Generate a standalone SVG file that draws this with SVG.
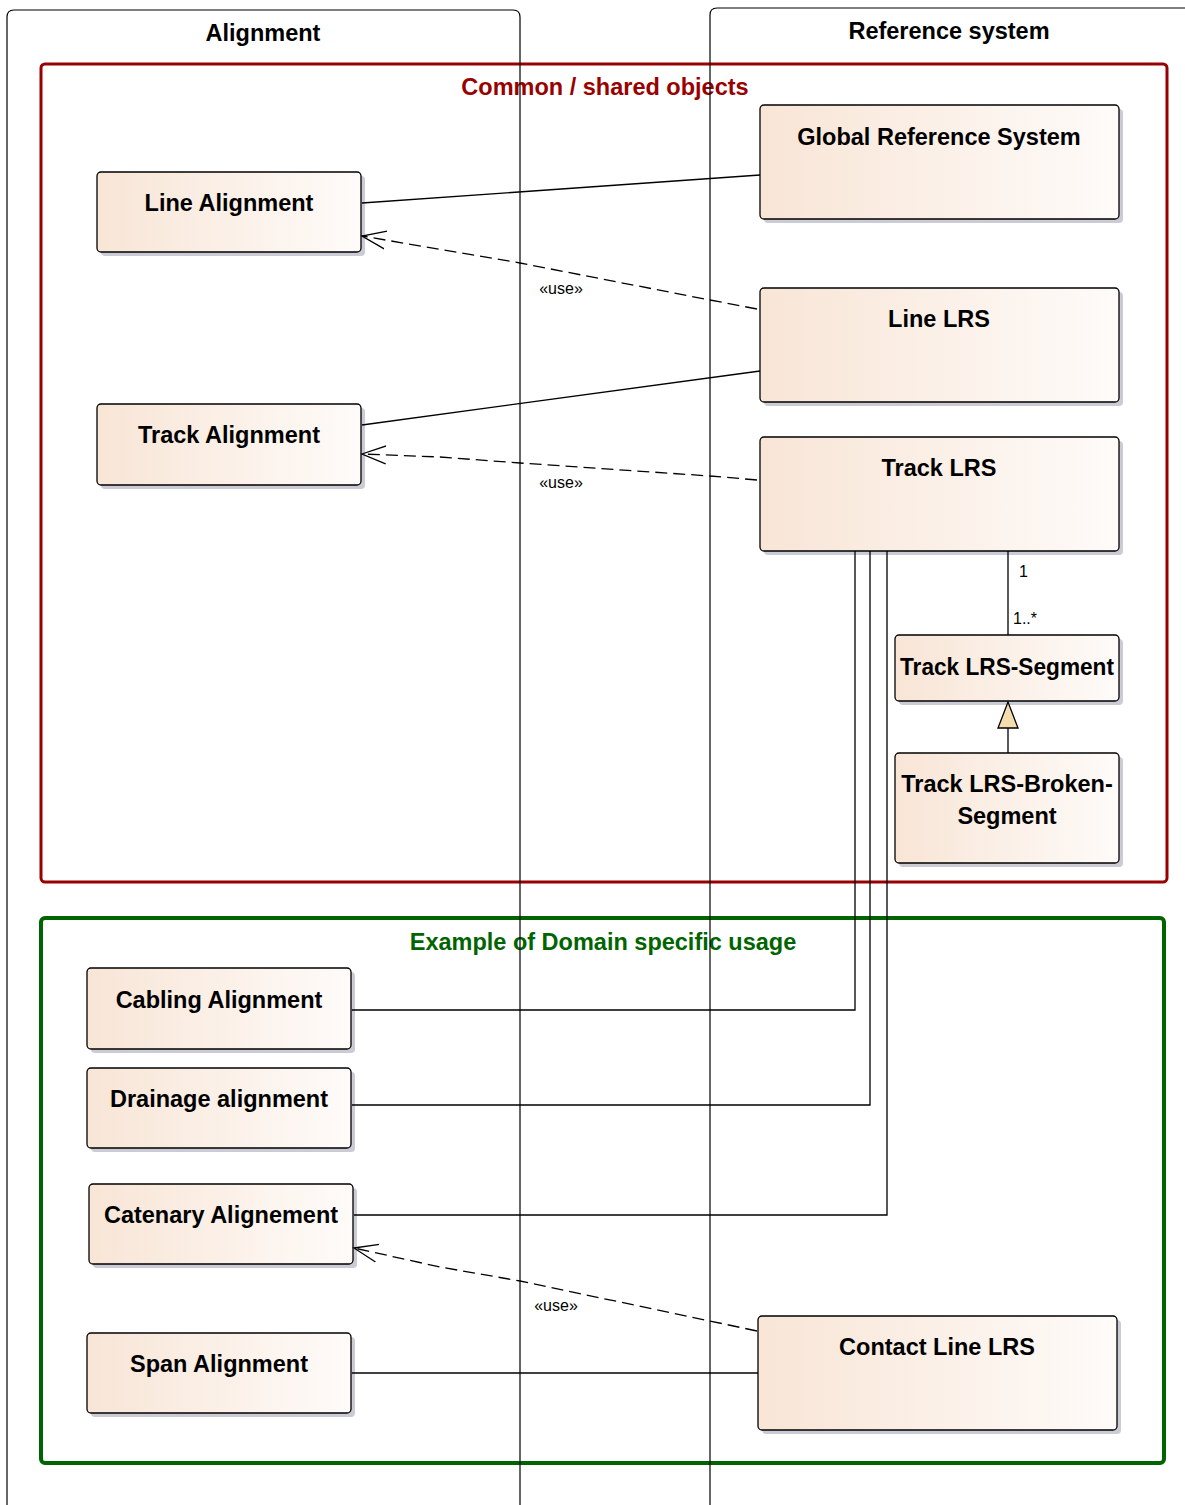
<svg xmlns="http://www.w3.org/2000/svg" width="1185" height="1505" viewBox="0 0 1185 1505">
<defs>
<linearGradient id="g" x1="0" y1="0" x2="1" y2="0">
<stop offset="0" stop-color="#f8e5d6"/>
<stop offset="1" stop-color="#fefbf9"/>
</linearGradient>
<marker id="open" markerWidth="30" markerHeight="24" refX="24" refY="11" orient="auto" markerUnits="userSpaceOnUse">
<path d="M0,2 L24,11 L0,20" fill="none" stroke="#000" stroke-width="1.3"/>
</marker>
<style>
.shadow{fill:#cbcbd6}
.box{fill:url(#g);stroke:#000;stroke-width:1.3}
.t{font-family:"Liberation Sans",Arial,sans-serif;font-weight:bold;font-size:23.5px;text-anchor:middle;fill:#000}
.lane{fill:none;stroke:#000;stroke-width:1.2}
.c{fill:none;stroke:#000;stroke-width:1.3}
.d{fill:none;stroke:#000;stroke-width:1.3;stroke-dasharray:12,6}
.s{font-family:"Liberation Sans",Arial,sans-serif;font-size:16px;fill:#000}
</style>
</defs>
<rect width="1185" height="1505" fill="#fff"/>
<g id="frame-common">
<rect x="41" y="64" width="1126" height="818" rx="4" fill="none" stroke="#990000" stroke-width="3"/>
<text x="605" y="95" class="t" style="fill:#990000">Common / shared objects</text>
</g>
<g id="frame-example">
<rect x="41" y="918" width="1123" height="545" rx="4" fill="none" stroke="#006400" stroke-width="4"/>
<text x="603" y="950" class="t" style="fill:#006400">Example of Domain specific usage</text>
</g>
<g id="lanes">
<path class="lane" d="M7,1505 V17 Q7,10 14,10 H513 Q520,10 520,17 V1505"/>
<text x="263" y="41" class="t">Alignment</text>
<path class="lane" d="M710,1505 V15 Q710,8 717,8 H1185"/>
<text x="949" y="39" class="t">Reference system</text>
</g>
<g id="global-reference-system">
<rect class="shadow" x="764" y="109" width="359" height="114" rx="4"/>
<rect class="box" x="760" y="105" width="359" height="114" rx="4"/>
<text x="939" y="145" class="t">Global Reference System</text>
</g>
<g id="line-alignment">
<rect class="shadow" x="101" y="176" width="264" height="80" rx="4"/>
<rect class="box" x="97" y="172" width="264" height="80" rx="4"/>
<text x="229" y="211" class="t">Line Alignment</text>
</g>
<g id="line-lrs">
<rect class="shadow" x="764" y="292" width="359" height="114" rx="4"/>
<rect class="box" x="760" y="288" width="359" height="114" rx="4"/>
<text x="939" y="327" class="t">Line LRS</text>
</g>
<g id="track-alignment">
<rect class="shadow" x="101" y="408" width="264" height="81" rx="4"/>
<rect class="box" x="97" y="404" width="264" height="81" rx="4"/>
<text x="229" y="443" class="t">Track Alignment</text>
</g>
<g id="track-lrs">
<rect class="shadow" x="764" y="441" width="359" height="114" rx="4"/>
<rect class="box" x="760" y="437" width="359" height="114" rx="4"/>
<text x="939" y="476" class="t">Track LRS</text>
</g>
<g id="track-lrs-segment">
<rect class="shadow" x="899" y="639" width="224" height="66" rx="4"/>
<rect class="box" x="895" y="635" width="224" height="66" rx="4"/>
<text x="1007" y="675" class="t" textLength="214" lengthAdjust="spacingAndGlyphs">Track LRS-Segment</text>
</g>
<g id="track-lrs-broken-segment">
<rect class="shadow" x="899" y="757" width="224" height="110" rx="4"/>
<rect class="box" x="895" y="753" width="224" height="110" rx="4"/>
<text x="1007" y="792" class="t">Track LRS-Broken-</text>
<text x="1007" y="824" class="t">Segment</text>
</g>
<g id="cabling-alignment">
<rect class="shadow" x="91" y="972" width="264" height="81" rx="4"/>
<rect class="box" x="87" y="968" width="264" height="81" rx="4"/>
<text x="219" y="1008" class="t">Cabling Alignment</text>
</g>
<g id="drainage-alignment">
<rect class="shadow" x="91" y="1072" width="264" height="80" rx="4"/>
<rect class="box" x="87" y="1068" width="264" height="80" rx="4"/>
<text x="219" y="1107" class="t">Drainage alignment</text>
</g>
<g id="catenary-alignement">
<rect class="shadow" x="93" y="1188" width="264" height="80" rx="4"/>
<rect class="box" x="89" y="1184" width="264" height="80" rx="4"/>
<text x="221" y="1223" class="t">Catenary Alignement</text>
</g>
<g id="span-alignment">
<rect class="shadow" x="91" y="1337" width="264" height="80" rx="4"/>
<rect class="box" x="87" y="1333" width="264" height="80" rx="4"/>
<text x="219" y="1372" class="t">Span Alignment</text>
</g>
<g id="contact-line-lrs">
<rect class="shadow" x="762" y="1320" width="359" height="114" rx="4"/>
<rect class="box" x="758" y="1316" width="359" height="114" rx="4"/>
<text x="937" y="1355" class="t">Contact Line LRS</text>
</g>
<g id="connectors">
<path class="c" d="M362,203 L760,175"/>
<path class="d" d="M757,309 L710,300 L520,263 L362,236" marker-end="url(#open)"/>
<text x="561" y="294" class="s" text-anchor="middle">«use»</text>
<path class="c" d="M760,371 L362,425"/>
<path class="d" d="M757,480 L710,476 L520,463 L440,457 L362,454" marker-end="url(#open)"/>
<text x="561" y="488" class="s" text-anchor="middle">«use»</text>
<path class="c" d="M1008,551 V635"/>
<text x="1019" y="577" class="s">1</text>
<text x="1013" y="624" class="s">1..*</text>
<path class="c" d="M1008,753 V728"/>
<path d="M1008,702 L998,728 L1018,728 Z" fill="#f5dcb0" stroke="#000" stroke-width="1.3"/>
<path class="c" d="M855,551 V1010 H352"/>
<path class="c" d="M870,551 V1105 H352"/>
<path class="c" d="M887,551 V1215 H354"/>
<path class="d" d="M757,1331 L710,1321 L520,1281 L440,1267 L354,1248" marker-end="url(#open)"/>
<text x="556" y="1311" class="s" text-anchor="middle">«use»</text>
<path class="c" d="M352,1373 H758"/>
</g>
</svg>
